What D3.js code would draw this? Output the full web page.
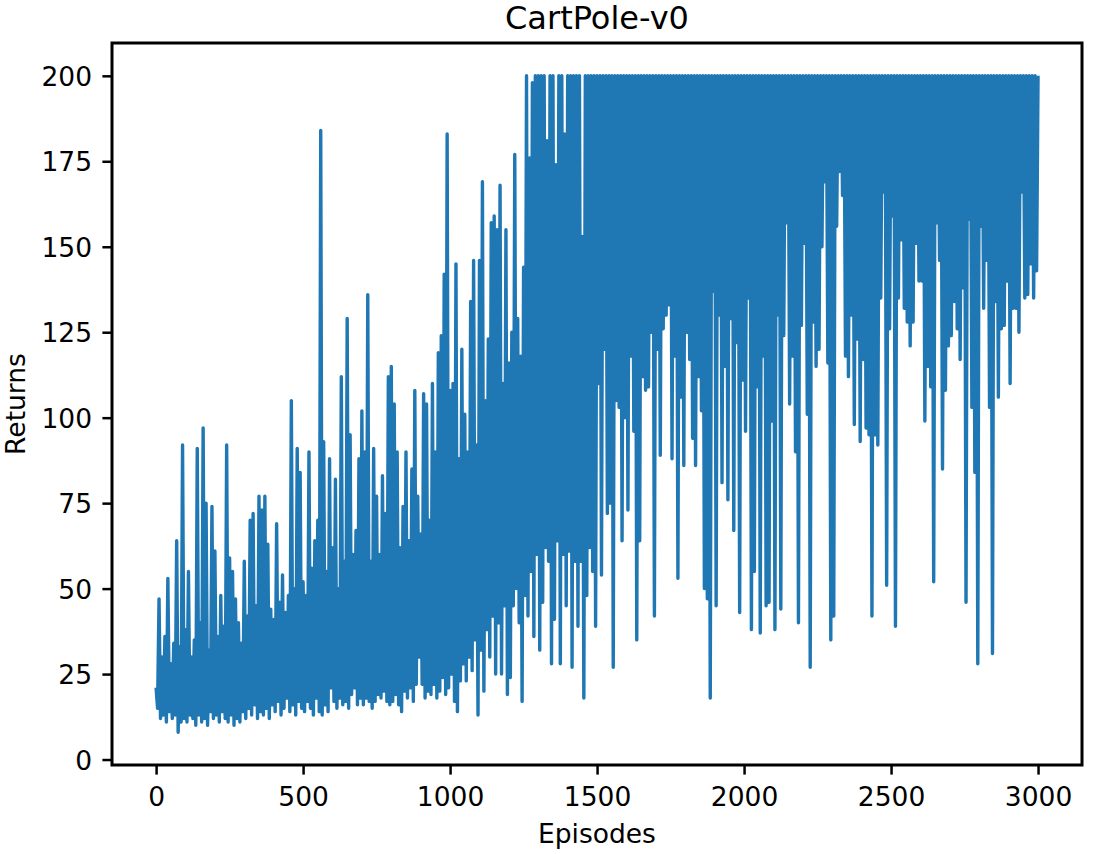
<!DOCTYPE html>
<html>
<head>
<meta charset="utf-8">
<script src="https://cdn.jsdelivr.net/npm/d3@7"></script>
<style>
  body { margin: 0; background: #fff; }
  text { font-family: "DejaVu Sans", sans-serif; fill: #000; }
</style>
</head>
<body>
<div id="chart-area"></div>
<script>
// returns, one value every EPISODE_STEP episodes
const EPISODE_STEP = 5
const returns = [
  21, 15, 47, 12, 30, 13, 36, 11, 53, 14, 28, 12, 34, 13, 64, 8, 33, 11, 92, 12,
  38, 11, 55, 13, 30, 12, 35, 10, 91, 13, 40, 11, 97, 12, 75, 10, 32, 14, 74, 12,
  61, 13, 36, 11, 48, 14, 39, 12, 92, 11, 59, 13, 55, 10, 47, 12, 40, 11, 34, 14,
  58, 12, 42, 15, 70, 13, 72, 16, 45, 12, 77, 14, 73, 13, 77, 15, 63, 12, 44, 16,
  41, 14, 69, 17, 46, 13, 54, 15, 43, 18, 48, 14, 105, 16, 50, 13, 91, 17, 84, 15,
  52, 14, 48, 17, 90, 15, 56, 13, 64, 18, 70, 14, 184, 13, 93, 16, 55, 14, 88, 21,
  62, 17, 82, 15, 50, 18, 112, 16, 58, 17, 129, 15, 95, 19, 60, 21, 67, 16, 88, 18,
  102, 16, 90, 18, 136, 17, 58, 15, 91, 17, 77, 19, 60, 18, 83, 20, 72, 17, 112, 16,
  115, 17, 104, 19, 90, 16, 62, 14, 74, 20, 90, 18, 64, 21, 85, 17, 108, 22, 77, 30,
  66, 22, 107, 18, 104, 20, 70, 19, 110, 22, 90, 18, 119, 20, 124, 24, 142, 19, 183, 21,
  108, 25, 110, 17, 145, 14, 88, 23, 120, 28, 101, 23, 90, 30, 134, 26, 146, 35, 92, 13,
  146, 32, 169, 20, 105, 38, 123, 30, 157, 42, 159, 25, 155, 40, 168, 25, 110, 45, 155, 19,
  116, 24, 125, 45, 177, 50, 129, 40, 118, 17, 144, 48, 200, 42, 176, 55, 198, 36, 200, 60,
  200, 32, 200, 46, 200, 62, 181, 58, 200, 28, 200, 41, 174, 64, 200, 28, 200, 60, 183, 45,
  200, 61, 200, 27, 200, 58, 200, 39, 200, 58, 153, 18, 200, 48, 200, 62, 200, 55, 200, 39,
  200, 110, 200, 54, 200, 120, 200, 72, 200, 75, 200, 27, 200, 105, 200, 103, 200, 64, 200, 100,
  200, 73, 200, 118, 200, 96, 200, 35, 200, 64, 200, 112, 200, 108, 200, 109, 200, 125, 200, 42,
  200, 120, 200, 89, 200, 126, 200, 130, 200, 133, 200, 88, 200, 118, 200, 53, 200, 106, 200, 86,
  200, 125, 200, 117, 200, 94, 200, 86, 200, 112, 200, 102, 200, 50, 200, 47, 200, 18, 200, 137,
  200, 45, 200, 130, 200, 81, 200, 115, 200, 76, 200, 129, 200, 67, 200, 122, 200, 43, 200, 111,
  200, 96, 200, 135, 200, 38, 200, 55, 200, 109, 200, 37, 200, 118, 200, 45, 200, 46, 200, 99,
  200, 38, 200, 130, 200, 44, 200, 124, 200, 157, 200, 104, 200, 118, 200, 90, 200, 40, 200, 127,
  200, 151, 200, 101, 200, 27, 200, 128, 200, 115, 200, 120, 200, 150, 200, 169, 200, 116, 200, 35,
  200, 42, 200, 156, 200, 172, 200, 165, 200, 118, 200, 112, 200, 130, 200, 98, 200, 123, 200, 93,
  200, 117, 200, 97, 200, 95, 200, 42, 200, 95, 200, 92, 200, 135, 200, 166, 200, 51, 200, 126,
  200, 159, 200, 39, 200, 135, 200, 152, 200, 132, 200, 128, 200, 121, 200, 128, 200, 151, 200, 140,
  200, 140, 200, 99, 200, 115, 200, 109, 200, 52, 200, 157, 200, 146, 200, 85, 200, 108, 200, 121,
  200, 124, 200, 134, 200, 126, 200, 117, 200, 138, 200, 46, 200, 158, 200, 103, 200, 84, 200, 28,
  200, 156, 200, 132, 200, 146, 200, 103, 200, 31, 200, 134, 200, 106, 200, 126, 200, 127, 200, 140,
  200, 110, 200, 132, 200, 132, 200, 125, 200, 166, 200, 135, 200, 136, 200, 145, 200, 135, 200, 143,
  200
]
const xTicks = [0, 500, 1000, 1500, 2000, 2500, 3000]
const yTicks = [0, 25, 50, 75, 100, 125, 150, 175, 200]

const MARGIN = { LEFT: 112, RIGHT: 20, TOP: 43, BOTTOM: 89 }
const WIDTH = 1102 - MARGIN.LEFT - MARGIN.RIGHT
const HEIGHT = 854 - MARGIN.TOP - MARGIN.BOTTOM
const FONT = 26.5

const svg = d3.select("#chart-area").append("svg")
  .attr("width", 1102)
  .attr("height", 854)

const g = svg.append("g")
  .attr("transform", `translate(${MARGIN.LEFT}, ${MARGIN.TOP})`)

const x = d3.scaleLinear()
  .domain([-150, 3149.5])
  .range([0, WIDTH])

const y = d3.scaleLinear()
  .domain([-1.6, 209.6])
  .range([HEIGHT, 0])

// axes
const xAxisGroup = g.append("g")
  .attr("transform", `translate(0, ${HEIGHT})`)
  .call(d3.axisBottom(x).tickValues(xTicks).tickFormat(d3.format("d"))
    .tickSize(9.6).tickSizeOuter(0).tickPadding(12.6))
const yAxisGroup = g.append("g")
  .call(d3.axisLeft(y).tickValues(yTicks).tickFormat(d3.format("d"))
    .tickSize(9.6).tickSizeOuter(0).tickPadding(10.4))

svg.selectAll(".domain").remove()
svg.selectAll(".tick line").attr("stroke", "#000").attr("stroke-width", 2.5)
svg.selectAll(".tick text").attr("font-size", FONT).attr("fill", "#000")
yAxisGroup.selectAll("text").attr("dy", "0.3645em")

// returns line
const line = d3.line()
  .x((d, i) => x(i * EPISODE_STEP))
  .y(d => y(d))

g.append("path")
  .datum(returns)
  .attr("fill", "none")
  .attr("stroke", "#1f77b4")
  .attr("stroke-width", 3.4)
  .attr("stroke-linejoin", "round")
  .attr("d", line)

// frame
g.append("rect")
  .attr("width", WIDTH)
  .attr("height", HEIGHT)
  .attr("fill", "none")
  .attr("stroke", "#000")
  .attr("stroke-width", 3)

// title and labels
svg.append("text")
  .attr("x", MARGIN.LEFT + WIDTH / 2)
  .attr("y", 29)
  .attr("font-size", 32)
  .attr("text-anchor", "middle")
  .text("CartPole-v0")

svg.append("text")
  .attr("x", MARGIN.LEFT + WIDTH / 2)
  .attr("y", 843)
  .attr("font-size", FONT)
  .attr("text-anchor", "middle")
  .text("Episodes")

svg.append("text")
  .attr("transform", `translate(25, ${MARGIN.TOP + HEIGHT / 2}) rotate(-90)`)
  .attr("font-size", FONT)
  .attr("text-anchor", "middle")
  .text("Returns")
</script>
</body>
</html>
